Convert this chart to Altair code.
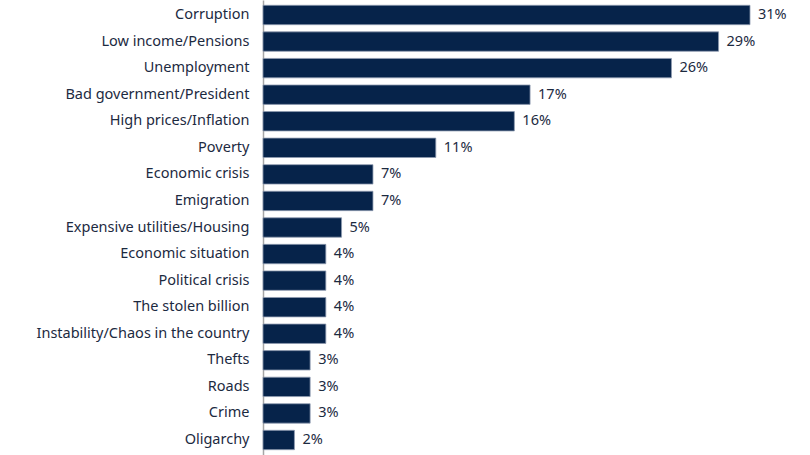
import altair as alt
import pandas as pd

categories = [
    "Corruption", "Low income/Pensions", "Unemployment", "Bad government/President",
    "High prices/Inflation", "Poverty", "Economic crisis", "Emigration",
    "Expensive utilities/Housing", "Economic situation", "Political crisis",
    "The stolen billion", "Instability/Chaos in the country", "Thefts", "Roads",
    "Crime", "Oligarchy",
]
values = [31, 29, 26, 17, 16, 11, 7, 7, 5, 4, 4, 4, 4, 3, 3, 3, 2]

df = pd.DataFrame({"issue": categories, "pct": values})
df["label"] = df["pct"].astype(str) + "%"

FONT = "Noto Sans"
NAVY = "#06234a"
TEXT = "#1c2a3f"

y_scale = alt.Scale(paddingInner=0.27, paddingOuter=0.2)
y_axis = alt.Axis(
    title=None, ticks=False, labelPadding=14, labelFontSize=14.5,
    labelFont=FONT, labelColor=TEXT, domainColor="#a6a6a6", domainWidth=1.5,
    labelLimit=300, grid=False,
)
y_enc = alt.Y("issue:N", sort=categories, scale=y_scale, axis=y_axis)
x_enc = alt.X("pct:Q", scale=alt.Scale(domain=[0, 31], nice=False), axis=None)

bars = alt.Chart(df).mark_bar(
    color=NAVY, stroke="#8e9bb0", strokeWidth=0.8
).encode(x=x_enc, y=y_enc)

labels = alt.Chart(df).mark_text(
    align="left", baseline="middle", dx=8, font=FONT, fontSize=14.5, color=TEXT
).encode(x=x_enc, y=y_enc, text="label:N")

chart = (
    alt.layer(bars, labels)
    .properties(
        width=487, height=455,
        background="white",
        autosize=alt.AutoSizeParams(type="none"),
        padding={"left": 263, "top": 0, "right": 60, "bottom": 0},
    )
    .configure_view(strokeWidth=0, stroke="transparent")
)

chart.save("out.html", embed_options={"renderer": "svg", "actions": False})
